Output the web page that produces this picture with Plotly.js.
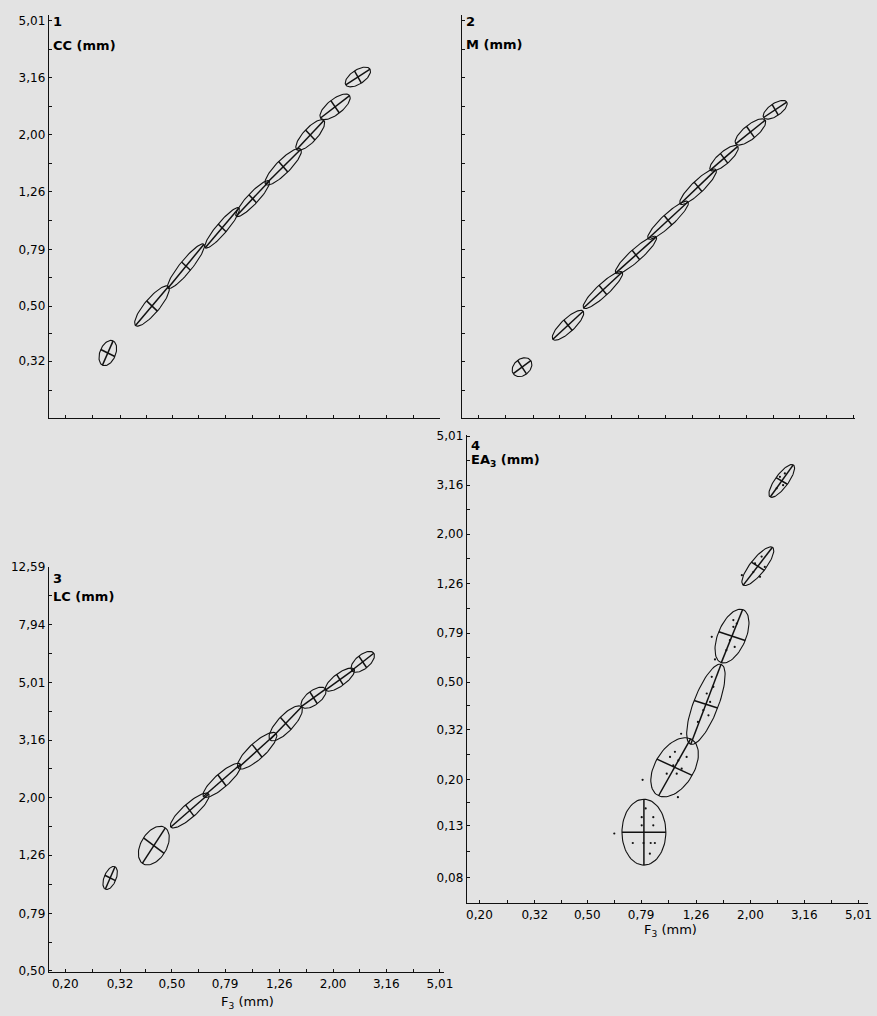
<!DOCTYPE html>
<html><head><meta charset="utf-8">
<script src="https://cdn.plot.ly/plotly-3.0.1.min.js"></script>
<style>html,body{margin:0;padding:0;background:#e3e3e3}</style>
</head><body><div id="chart" style="width:877px;height:1016px"></div>
<script>
// ---- Tick labels ----
const xTickLabels = ['0,20','0,32','0,50','0,79','1,26','2,00','3,16','5,01'];
const y1TickLabels = ['0,20','0,32','0,50','0,79','1,26','2,00','3,16','5,01'];
const y3TickLabels = ['0,50','0,79','1,26','2,00','3,16','5,01','7,94','12,59'];
const y4TickLabels = ['0,08','0,13','0,20','0,32','0,50','0,79','1,26','2,00','3,16','5,01'];

// ---- Panel 1 : CC vs F3 (ellipse centre, semi-axes in decades, angle in degrees) ----
const p1_cx  = [0.288, 0.421, 0.564, 0.769, 1.00, 1.30, 1.64, 2.03, 2.47];
const p1_cy  = [0.342, 0.500, 0.690, 0.940, 1.19, 1.54, 1.99, 2.50, 3.18];
const p1_a   = [0.047, 0.092, 0.102, 0.094, 0.087, 0.090, 0.072, 0.067, 0.053];
const p1_b   = [0.029, 0.027, 0.022, 0.020, 0.020, 0.025, 0.025, 0.027, 0.025];
const p1_ang = [65, 48, 49, 48, 45, 43, 45, 36, 31];

// ---- Panel 2 : M vs F3 ----
const p2_cx  = [0.291, 0.432, 0.583, 0.774, 1.02, 1.32, 1.65, 2.07, 2.56];
const p2_cy  = [0.305, 0.428, 0.569, 0.755, 1.00, 1.31, 1.65, 2.04, 2.44];
const p2_a   = [0.040, 0.075, 0.096, 0.099, 0.099, 0.090, 0.066, 0.069, 0.051];
const p2_b   = [0.029, 0.024, 0.022, 0.022, 0.022, 0.022, 0.022, 0.025, 0.022];
const p2_ang = [35, 41, 41, 40, 41, 42, 39, 37, 32];

// ---- Panel 3 : LC vs F3 ----
const p3_cx  = [0.294, 0.428, 0.583, 0.769, 1.04, 1.33, 1.69, 2.12, 2.58];
const p3_cy  = [1.05, 1.36, 1.80, 2.29, 2.90, 3.61, 4.43, 5.12, 5.90];
const p3_a   = [0.043, 0.075, 0.091, 0.089, 0.093, 0.082, 0.054, 0.064, 0.051];
const p3_b   = [0.022, 0.047, 0.025, 0.025, 0.029, 0.029, 0.025, 0.022, 0.025];
const p3_ang = [65, 55, 39, 39, 40, 44, 34, 34, 36];

// ---- Panel 4 : EA3 vs F3 ----
const p4_cx  = [0.809, 1.05, 1.37, 1.71, 2.13, 2.61];
const p4_cy  = [0.1225, 0.225, 0.406, 0.769, 1.48, 3.29];
const p4_a   = [0.134, 0.130, 0.172, 0.115, 0.094, 0.078];
const p4_b   = [0.081, 0.073, 0.046, 0.052, 0.029, 0.025];
const p4_ang = [90, 63, 71, 70, 55, 57];
// individual points visible in panel 4
const p4_dot_x = [0.821,0.794,0.876,0.794,0.876,0.629,0.736,0.806,0.857,0.888,0.851,
                  0.80,1.08,1.11,1.44,1.48,1.86,
                  1.053,1.084,1.038,0.982,1.069,1.115,1.163,1.01,
                  1.38,1.42,1.34,1.40,1.46,1.28,1.44,
                  1.73,1.68,1.75,1.63,1.78,1.73,
                  2.20,2.26,2.05,2.17,2.08,
                  2.57,2.64,2.50,2.68];
const p4_dot_y = [0.153,0.141,0.141,0.1306,0.1306,0.121,0.1107,0.1107,0.1107,0.1107,0.1002,
                  0.20,0.170,0.308,0.764,0.618,1.36,
                  0.260,0.240,0.229,0.212,0.212,0.222,0.248,0.248,
                  0.449,0.415,0.384,0.366,0.478,0.344,0.525,
                  0.839,0.740,0.695,0.674,0.865,0.893,
                  1.62,1.47,1.40,1.34,1.52,
                  3.42,3.16,3.07,3.53];

const INK = '#111111';
const FONT = 'DejaVu Sans';

function ellipseTraces(cx, cy, a, b, ang, xa, ya) {
  const ox = [], oy = [], lx = [], ly = [];
  const N = 80;
  for (let i = 0; i < cx.length; i++) {
    const X = Math.log10(cx[i]), Y = Math.log10(cy[i]);
    const th = ang[i] * Math.PI / 180;
    const ux = Math.cos(th), uy = Math.sin(th), vx = -uy, vy = ux;
    for (let k = 0; k <= N; k++) {
      const t = 2 * Math.PI * k / N;
      const px = X + a[i] * Math.cos(t) * ux + b[i] * Math.sin(t) * vx;
      const py = Y + a[i] * Math.cos(t) * uy + b[i] * Math.sin(t) * vy;
      ox.push(Math.pow(10, px)); oy.push(Math.pow(10, py));
    }
    ox.push(null); oy.push(null);
    lx.push(Math.pow(10, X - a[i]*ux), Math.pow(10, X + a[i]*ux), null,
            Math.pow(10, X - b[i]*vx), Math.pow(10, X + b[i]*vx), null);
    ly.push(Math.pow(10, Y - a[i]*uy), Math.pow(10, Y + a[i]*uy), null,
            Math.pow(10, Y - b[i]*vy), Math.pow(10, Y + b[i]*vy), null);
  }
  return [
    {x: ox, y: oy, xaxis: xa, yaxis: ya, type: 'scatter', mode: 'lines',
     line: {color: INK, width: 1.1}, hoverinfo: 'skip', showlegend: false},
    {x: lx, y: ly, xaxis: xa, yaxis: ya, type: 'scatter', mode: 'lines',
     line: {color: INK, width: 1.5}, hoverinfo: 'skip', showlegend: false}
  ];
}

function toNum(s) { return parseFloat(s.replace(',', '.')); }
function ticks(labels, show) {
  const vals = [], txt = [];
  for (let i = 0; i < labels.length; i++) {
    const v = toNum(labels[i]);
    vals.push(v); txt.push(show && show(i) ? labels[i] : '');
    if (i < labels.length - 1) {
      vals.push(Math.sqrt(v * toNum(labels[i + 1]))); txt.push('');
    }
  }
  return {vals, txt};
}

const tx = ticks(xTickLabels, () => true);
const txBlank = ticks(xTickLabels, () => false);
const ty1 = ticks(y1TickLabels, i => i > 0);
const ty2 = ticks(y1TickLabels, () => false);
const ty3 = ticks(y3TickLabels, () => true);
const ty4 = ticks(y4TickLabels, () => true);

function axis(domain, range, tk, anchor) {
  return {
    type: 'log', domain: domain, range: range, anchor: anchor,
    showgrid: false, zeroline: false, showline: true, linecolor: INK, linewidth: 1.3,
    ticks: 'inside', ticklen: 3, tickwidth: 1, tickcolor: INK,
    tickmode: 'array', tickvals: tk.vals, ticktext: tk.txt,
    tickfont: {family: FONT, size: 12, color: '#000'},
    fixedrange: true
  };
}

const W = 877, H = 1016;
const dx = (a, b) => [a / W, b / W];
const dy = (top, bot) => [1 - bot / H, 1 - top / H];

const traces = [
  ...ellipseTraces(p1_cx, p1_cy, p1_a, p1_b, p1_ang, 'x', 'y'),
  ...ellipseTraces(p2_cx, p2_cy, p2_a, p2_b, p2_ang, 'x2', 'y2'),
  ...ellipseTraces(p3_cx, p3_cy, p3_a, p3_b, p3_ang, 'x3', 'y3'),
  ...ellipseTraces(p4_cx, p4_cy, p4_a, p4_b, p4_ang, 'x4', 'y4'),
  {x: p4_dot_x, y: p4_dot_y, xaxis: 'x4', yaxis: 'y4', type: 'scatter', mode: 'markers',
   marker: {color: INK, size: 2.2}, hoverinfo: 'skip', showlegend: false}
];

function lab(x, y, text, size) {
  return {xref: 'paper', yref: 'paper', x: x / W, y: 1 - y / H, text: text,
          showarrow: false, xanchor: 'left', yanchor: 'middle',
          font: {family: FONT, size: size || 13, color: '#000', weight: 'bold'}};
}
function xt(xc, y) {
  return {xref: 'paper', yref: 'paper', x: xc / W, y: 1 - y / H, text: 'F<sub>3</sub> (mm)',
          showarrow: false, xanchor: 'center', yanchor: 'middle',
          font: {family: FONT, size: 13, color: '#000'}};
}

const layout = {
  width: W, height: H,
  margin: {l: 0, r: 0, t: 0, b: 0},
  paper_bgcolor: '#e3e3e3', plot_bgcolor: 'rgba(0,0,0,0)',
  showlegend: false,
  xaxis:  axis(dx(49, 440),  [-0.76, 0.699], txBlank, 'y'),
  yaxis:  axis(dy(15, 418),  [-0.694, 0.72], ty1, 'x'),
  xaxis2: axis(dx(462, 855), [-0.76, 0.706], txBlank, 'y2'),
  yaxis2: axis(dy(15, 418),  [-0.694, 0.72], ty2, 'x2'),
  xaxis3: axis(dx(49, 444),  [-0.76, 0.715], tx, 'y3'),
  yaxis3: axis(dy(567, 972), [-0.305, 1.1], ty3, 'x3'),
  xaxis4: axis(dx(467, 868), [-0.745, 0.735], tx, 'y4'),
  yaxis4: axis(dy(435, 903), [-1.2, 0.704], ty4, 'x4'),
  annotations: [
    lab(51, 22, '1'), lab(51, 45, 'CC (mm)'),
    lab(464, 22, '2'), lab(464, 44, 'M (mm)'),
    lab(51, 578, '3'), lab(51, 596, 'LC (mm)'),
    lab(469, 445, '4'), lab(469, 460, 'EA<sub>3</sub> (mm)'),
    xt(248, 1002), xt(670, 930)
  ]
};

Plotly.newPlot('chart', traces, layout, {displayModeBar: false, staticPlot: true});
</script></body></html>
